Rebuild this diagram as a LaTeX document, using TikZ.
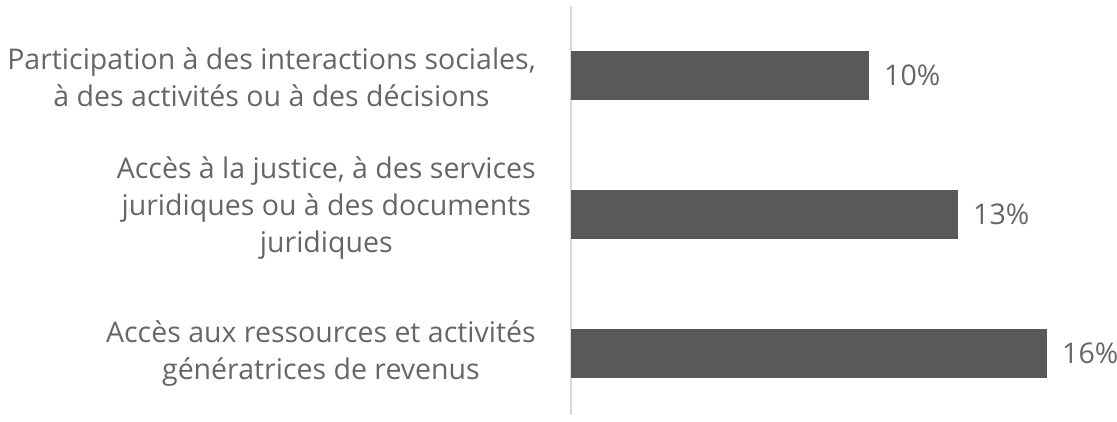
\documentclass[tikz,border=0pt]{standalone}
\usepackage{fontspec}
\setmainfont{Open Sans}
\usepackage{xcolor}
\usepackage{tikz}
\definecolor{bargray}{HTML}{595959}
\definecolor{txtgray}{HTML}{666666}
\definecolor{axisgray}{HTML}{D9D9D9}

\begin{document}
\begin{tikzpicture}[x=1pt, y=-1pt,
    cat/.style={anchor=east, align=center, text=txtgray, inner sep=0pt,
        font=\fontsize{28.5}{37}\selectfont},
    val/.style={anchor=west, text=txtgray, inner sep=0pt,
        font=\fontsize{28.5}{37}\selectfont}]
    \useasboundingbox (0,0) rectangle (1117,421);
    \draw[axisgray, line width=1.5pt] (571,6) -- (571,415);
    \fill[bargray] (571,51) rectangle (869,100);
    \fill[bargray] (571,190) rectangle (958,239);
    \fill[bargray] (571,329) rectangle (1047,378);
    \node[val] (v1) at (884,75.5) {10\%};
    \node[val] (v2) at (973,214.5) {13\%};
    \node[val] (v3) at (1062,353.5) {16\%};
    \node[cat] (c1) at (536,77) {Participation à des interactions sociales,\\à des activités ou à des décisions};
    \node[cat] (c2) at (536,208) {Accès à la justice, à des services\\juridiques ou à des documents\\juridiques};
    \node[cat] (c3) at (536,353.5) {Accès aux ressources et activités\\génératrices de revenus};
\end{tikzpicture}
\end{document}
